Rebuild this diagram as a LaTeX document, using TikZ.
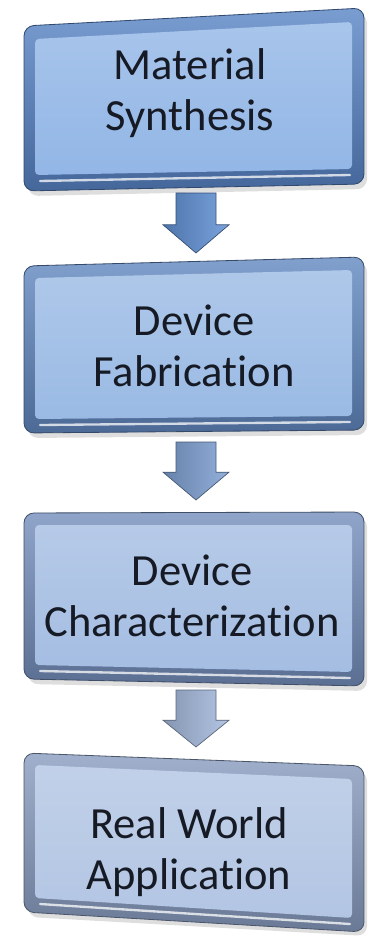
\documentclass[tikz,border=0pt]{standalone}
\usepackage{fontspec}
\setmainfont{Carlito}[Ligatures=NoCommon]
\usepackage{tikz}
\usetikzlibrary{calc}

\definecolor{edgeA}{RGB}{88,132,198}
\definecolor{edgeB}{RGB}{98,136,192}
\definecolor{edgeC}{RGB}{116,142,188}
\definecolor{edgeD}{RGB}{136,156,192}
\definecolor{faceA}{RGB}{146,182,230}
\definecolor{faceB}{RGB}{154,186,228}
\definecolor{faceC}{RGB}{164,189,226}
\definecolor{faceD}{RGB}{178,197,227}
\definecolor{arrA}{RGB}{98,146,214}
\definecolor{arrB}{RGB}{128,162,212}
\definecolor{arrC}{RGB}{166,187,222}
\definecolor{txt}{RGB}{22,26,36}

\begin{document}
\begin{tikzpicture}[x=0.03cm,y=-0.03cm,
    boxtext/.style={align=center,font=\fontsize{38}{44}\selectfont,text=txt,inner sep=0pt},
    shadowbox/.style={fill=black,opacity=0.13,rounded corners=0.3cm},
    bevel/.style={rounded corners=0.3cm,draw=#1!55!black,line width=0.7pt,
        top color=#1!80!white,bottom color=#1!78!black},
    face/.style={rounded corners=0.12cm,top color=#1!80!white,bottom color=#1},
    shine/.style={white,opacity=0.75,line width=0.07cm,line cap=round},
    blockarrow/.style={left color=#1!80!black,right color=#1!85!white,
        draw=#1!55!black,line width=0.6pt,line join=miter}]
\useasboundingbox (0,0) rectangle (368,937);

% first box
\fill[shadowbox] (28,31) -- (367,13) -- (367,189) -- (28,196) -- cycle;
\shade[bevel=edgeA] (24,26) -- (364,8) -- (364,184) -- (24,191) -- cycle;
\shade[face=faceA] (35,39) -- (352,22) -- (352,169) -- (35,175) -- cycle;
\draw[shine] (40,181) -- (350,175);
\node[boxtext] (mat) at (190,93) {Material\\Synthesis};

% second box
\fill[shadowbox] (28,271) -- (367,262) -- (367,435) -- (28,438) -- cycle;
\shade[bevel=edgeB] (24,266) -- (364,257) -- (364,430) -- (24,433) -- cycle;
\shade[face=faceB] (35,278) -- (352,270) -- (352,416) -- (35,419) -- cycle;
\draw[shine] (40,425) -- (350,422);
\node[boxtext] (fab) at (194,346) {Device\\Fabrication};

% third box
\fill[shadowbox] (28,518) -- (367,517) -- (367,691) -- (28,684) -- cycle;
\shade[bevel=edgeC] (24,513) -- (364,512) -- (364,686) -- (24,679) -- cycle;
\shade[face=faceC] (35,525) -- (352,525) -- (352,672) -- (35,665) -- cycle;
\draw[shine] (40,671) -- (350,678);
\node[boxtext] (chr) at (192,596) {Device\\Characterization};

% fourth box
\fill[shadowbox] (28,758) -- (367,771) -- (367,936) -- (28,917) -- cycle;
\shade[bevel=edgeD] (24,753) -- (364,766) -- (364,932) -- (24,912) -- cycle;
\shade[face=faceD] (35,765) -- (352,779) -- (352,918) -- (35,898) -- cycle;
\draw[shine] (40,904) -- (350,924);
\node[boxtext] (app) at (189,852) {Real World\\Application};

% % % % % % % % % % % % % % % % % % % % % % % % % %

\coordinate (mat-s) at (196,193);
\coordinate (fab-n) at (196,253);
\coordinate (fab-s) at (196,442);
\coordinate (chr-n) at (196,500);
\coordinate (chr-s) at (196,690);
\coordinate (app-n) at (196,747);

\draw[blockarrow=arrA] ($(mat-s)+(-20,0)$) -- ($(mat-s)+(20,0)$) -- ($(mat-s)!0.53!(fab-n)+(20,0)$) -- ($(mat-s)!0.53!(fab-n)+(33,0)$) -- (fab-n) -- ($(mat-s)!0.53!(fab-n)+(-33,0)$) -- ($(mat-s)!0.53!(fab-n)+(-20,0)$) -- cycle;
\draw[blockarrow=arrB] ($(fab-s)+(-20,0)$) -- ($(fab-s)+(20,0)$) -- ($(fab-s)!0.52!(chr-n)+(20,0)$) -- ($(fab-s)!0.52!(chr-n)+(33,0)$) -- (chr-n) -- ($(fab-s)!0.52!(chr-n)+(-33,0)$) -- ($(fab-s)!0.52!(chr-n)+(-20,0)$) -- cycle;
\draw[blockarrow=arrC] ($(chr-s)+(-20,0)$) -- ($(chr-s)+(20,0)$) -- ($(chr-s)!0.53!(app-n)+(20,0)$) -- ($(chr-s)!0.53!(app-n)+(33,0)$) -- (app-n) -- ($(chr-s)!0.53!(app-n)+(-33,0)$) -- ($(chr-s)!0.53!(app-n)+(-20,0)$) -- cycle;
\end{tikzpicture}
\end{document}
